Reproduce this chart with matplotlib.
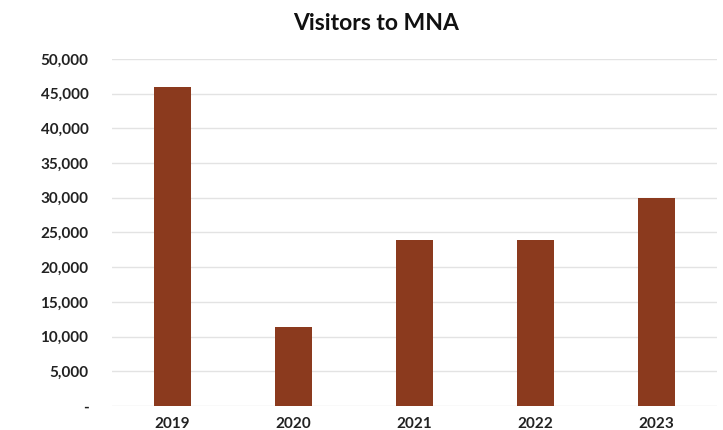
import matplotlib
matplotlib.use('Agg')
import matplotlib.pyplot as plt
from matplotlib.ticker import FuncFormatter

# Chart data
years = ['2019', '2020', '2021', '2022', '2023']
visitors = [46000, 11400, 23900, 23900, 30000]
y_ticks = [0, 5000, 10000, 15000, 20000, 25000, 30000, 35000, 40000, 45000, 50000]

plt.rcParams['font.family'] = ['Lato', 'DejaVu Sans']

fig = plt.figure(figsize=(7.23, 4.30), dpi=100)
ax = fig.add_axes([0.155, 0.056, 0.837, 0.807])

ax.bar(range(len(years)), visitors, width=0.31, color='#8B3A1E', zorder=3)

ax.set_xlim(-0.5, len(years) - 0.5)
ax.set_ylim(0, 50000)
ax.set_yticks(y_ticks)
ax.set_xticks(range(len(years)))
ax.set_xticklabels(years)

def fmt(v, pos):
    return '-' if v == 0 else f'{int(v):,}'
ax.yaxis.set_major_formatter(FuncFormatter(fmt))

ax.grid(axis='y', color='#e3e3e3', linewidth=1, zorder=0)
for s in ax.spines.values():
    s.set_visible(False)
ax.tick_params(length=0, labelsize=11, colors='#222222')
ax.tick_params(axis='y', pad=17)
ax.tick_params(axis='x', pad=8)
for lab in ax.get_xticklabels() + ax.get_yticklabels():
    lab.set_fontweight('bold')

fig.text(0.52, 0.945, 'Visitors to MNA', ha='center', va='center',
         fontsize=16.5, fontweight='bold', color='#111111')

fig.savefig('out.png', facecolor='white')
